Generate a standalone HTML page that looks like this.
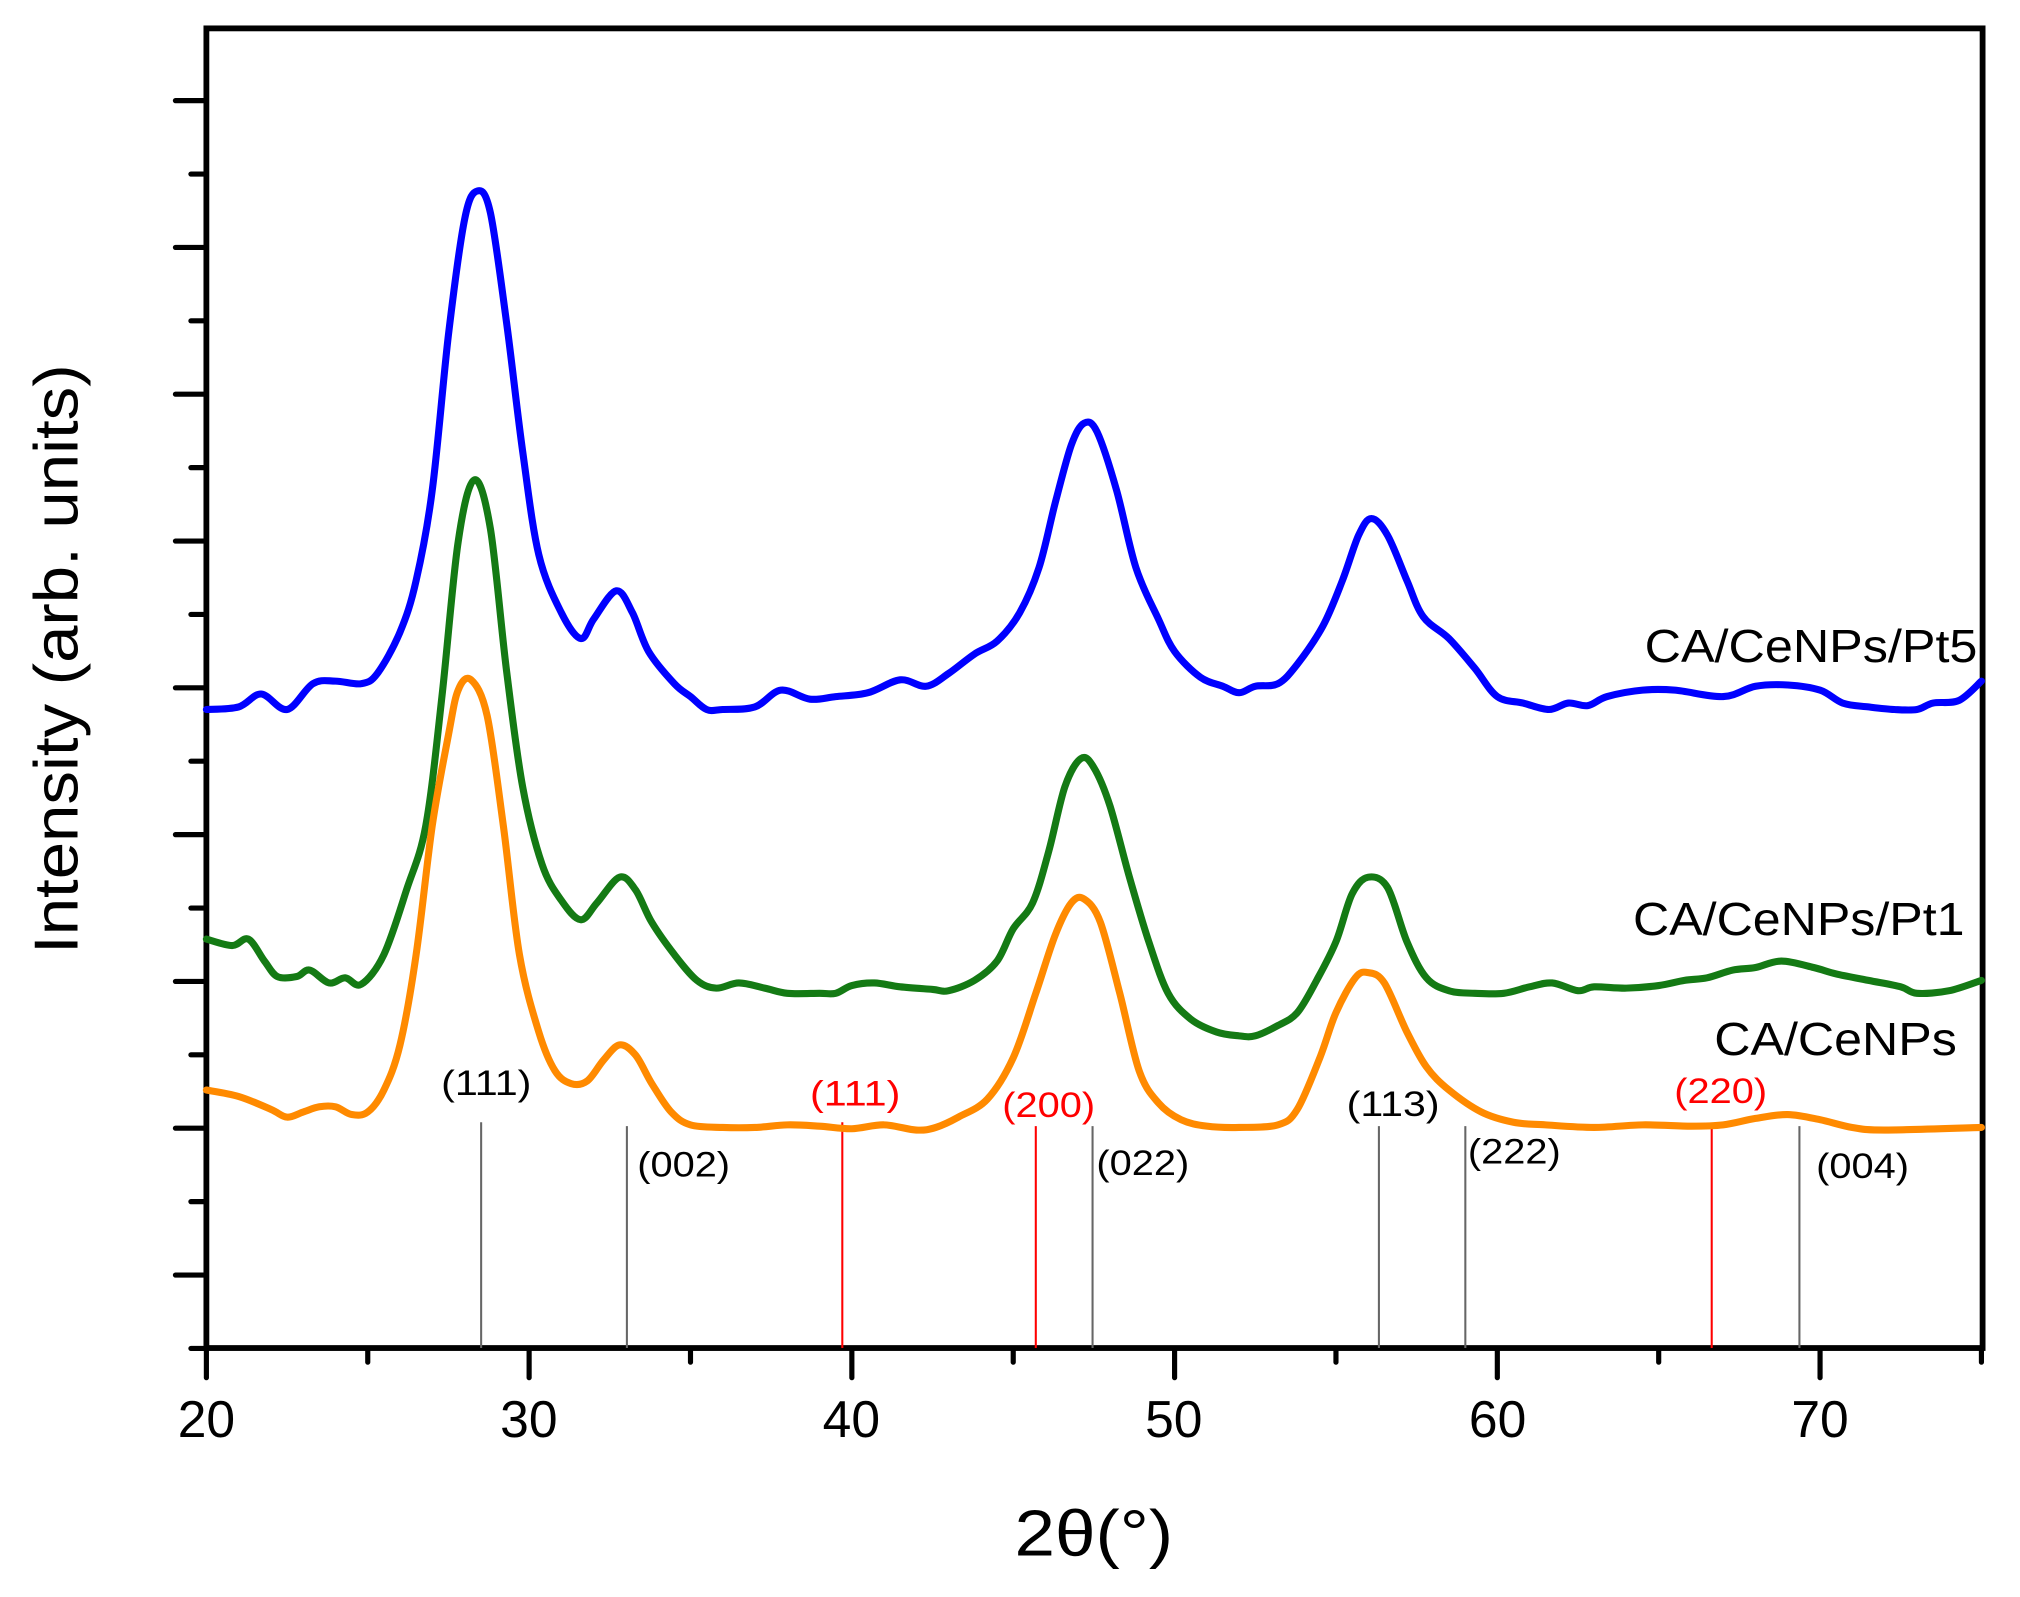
<!DOCTYPE html>
<html><head><meta charset="utf-8"><style>html,body{margin:0;padding:0;background:#fff}svg{display:block}</style></head><body>
<svg id="s" width="2020" height="1597" viewBox="0 0 1566 1238" preserveAspectRatio="none" xmlns="http://www.w3.org/2000/svg" font-family="Liberation Sans, Arial, sans-serif">
<g id="ticks" stroke="#000" stroke-width="4" stroke-linecap="round"></g>
<rect x="160" y="22" width="1377" height="1023" fill="none" stroke="#000" stroke-width="4.5"/>
<g stroke-width="1.6">
<line x1="373" y1="870" x2="373" y2="1045" stroke="#666"/>
<line x1="486" y1="873" x2="486" y2="1045" stroke="#666"/>
<line x1="653" y1="870" x2="653" y2="1045" stroke="#f00"/>
<line x1="803" y1="873" x2="803" y2="1045" stroke="#f00"/>
<line x1="847" y1="873" x2="847" y2="1045" stroke="#666"/>
<line x1="1069" y1="873" x2="1069" y2="1045" stroke="#666"/>
<line x1="1136" y1="873" x2="1136" y2="1045" stroke="#666"/>
<line x1="1327" y1="873" x2="1327" y2="1045" stroke="#f00"/>
<line x1="1395" y1="873" x2="1395" y2="1045" stroke="#666"/>
</g>
<g font-size="27" text-anchor="middle" lengthAdjust="spacingAndGlyphs">
<text x="377" y="849" textLength="70" lengthAdjust="spacingAndGlyphs">(111)</text>
<text x="530" y="912" textLength="72" lengthAdjust="spacingAndGlyphs">(002)</text>
<text x="663" y="857" fill="#f00" textLength="70" lengthAdjust="spacingAndGlyphs">(111)</text>
<text x="813" y="866" fill="#f00" textLength="72" lengthAdjust="spacingAndGlyphs">(200)</text>
<text x="886" y="911" textLength="72" lengthAdjust="spacingAndGlyphs">(022)</text>
<text x="1080" y="865" textLength="72" lengthAdjust="spacingAndGlyphs">(113)</text>
<text x="1174" y="902" textLength="72" lengthAdjust="spacingAndGlyphs">(222)</text>
<text x="1334" y="855" fill="#f00" textLength="72" lengthAdjust="spacingAndGlyphs">(220)</text>
<text x="1444" y="913" textLength="72" lengthAdjust="spacingAndGlyphs">(004)</text>
</g>
<g fill="none" stroke-width="5.5" stroke-linejoin="round" stroke-linecap="round">
<path id="pb" stroke="#0000ff"/>
<path id="pg" stroke="#147a14"/>
<path id="po" stroke="#ff8a00"/>
</g>
<g font-size="36">
<text x="1275" y="513" textLength="258" lengthAdjust="spacingAndGlyphs">CA/CeNPs/Pt5</text>
<text x="1266" y="725" textLength="257" lengthAdjust="spacingAndGlyphs">CA/CeNPs/Pt1</text>
<text x="1329" y="818" textLength="188" lengthAdjust="spacingAndGlyphs">CA/CeNPs</text>
</g>
<g font-size="40" text-anchor="middle">
<text x="160" y="1114">20</text><text x="410" y="1114">30</text><text x="660" y="1114">40</text>
<text x="910" y="1114">50</text><text x="1161" y="1114">60</text><text x="1411" y="1114">70</text>
</g>
<text x="848" y="1206" font-size="50" text-anchor="middle" textLength="123" lengthAdjust="spacingAndGlyphs">2θ(°)</text>
<text transform="translate(60,511) rotate(-90)" font-size="48" text-anchor="middle" textLength="457" lengthAdjust="spacingAndGlyphs">Intensity (arb. units)</text>
</svg>
<script>
var X=v=>160+(v-20)*25.02;
function P(id,d){var p=[];for(var i=0;i<d.length;i+=2)p.push([X(d[i]),d[i+1]]);
var s="M"+p[0][0].toFixed(1)+","+p[0][1];
for(var i=0;i<p.length-1;i++){var a=p[Math.max(0,i-1)],b=p[i],c=p[i+1],e=p[Math.min(p.length-1,i+2)];
var c1x=b[0]+(c[0]-a[0])/6,c1y=b[1]+(c[1]-a[1])/6,c2x=c[0]-(e[0]-b[0])/6,c2y=c[1]-(e[1]-b[1])/6;
s+="C"+c1x.toFixed(1)+","+c1y.toFixed(1)+" "+c2x.toFixed(1)+","+c2y.toFixed(1)+" "+c[0].toFixed(1)+","+c[1];}
document.getElementById(id).setAttribute("d",s);}
P("pb",[20,550,21,548,21.7,538,22.5,550,23.3,530,24,528,24.8,530,25.3,522,26,490,26.5,450,27,380,27.5,260,28,170,28.4,148,28.8,165,29.3,250,29.8,350,30.3,430,31,475,31.6,495,32,480,32.7,458,33.2,475,33.7,505,34.5,530,35,540,35.5,550,36,550,37,548,37.8,535,38.7,542,39.5,540,40.5,537,41.5,527,42.3,532,43,522,43.8,507,44.5,497,45.2,475,45.8,440,46.3,390,46.8,345,47.2,328,47.6,335,48.2,380,48.8,440,49.5,480,50,505,50.8,525,51.5,532,52,537,52.5,532,53.2,530,53.8,515,54.6,485,55.2,450,55.7,415,56.1,402,56.6,415,57.2,450,57.7,478,58.5,495,59.3,518,60,540,60.8,545,61.6,550,62.2,545,62.8,547,63.4,540,64.5,535,65.5,535,67,540,68,532,69,531,70,535,70.7,545,71.5,548,72.3,550,73,550,73.5,545,74.3,543,75,528]);
P("pg",[20,728,20.8,733,21.3,728,21.8,745,22.2,757,22.8,757,23.2,752,23.8,762,24.3,758,24.8,763,25.5,740,26.2,690,26.8,640,27.3,540,27.8,420,28.3,372,28.8,410,29.3,520,29.8,610,30.4,670,31,698,31.6,713,32.1,700,32.8,680,33.3,690,33.8,715,34.5,740,35.2,760,35.8,766,36.5,762,37.3,766,38,770,39,770,39.5,770,40,764,40.7,762,41.5,765,42.5,767,43,768,43.8,760,44.5,745,45,720,45.6,700,46.1,660,46.6,610,47.1,588,47.5,595,48,625,48.6,680,49.2,730,49.8,770,50.5,790,51.3,800,52,803,52.5,803,53.2,795,53.8,785,54.4,760,55,730,55.5,693,56,680,56.6,688,57.2,730,57.8,758,58.5,768,59.3,770,60.2,770,61,765,61.7,762,62.5,768,63,765,64,766,65,764,65.8,760,66.5,758,67.3,752,68,750,68.8,745,69.8,750,70.5,755,71.5,760,72.5,765,73,770,74,768,75,760]);
P("po",[20,845,21,850,22,860,22.5,866,23,862,23.5,858,24,858,24.5,864,25,862,25.5,845,26,810,26.5,740,27,640,27.5,570,27.8,535,28.2,527,28.7,555,29.2,640,29.7,740,30.3,800,30.8,830,31.3,840,31.8,838,32.3,822,32.8,810,33.3,818,33.8,840,34.4,862,35,872,36,874,37,874,38,872,39,873,40,875,41,872,42,876,42.6,874,43.3,866,44.2,852,45,820,45.7,770,46.3,725,46.8,700,47.2,697,47.7,715,48.3,770,48.9,830,49.5,855,50.2,868,51,873,52,874,53.2,872,53.8,860,54.5,820,55,785,55.6,758,56,754,56.5,762,57.2,800,57.8,827,58.5,845,59.5,862,60.5,870,61.5,872,63,874,64.5,872,66,873,67,872,68,867,69,864,70,868,71,874,72,876,75,874]);
var t="";
for(var v=20;v<=75;v+=5){var x=X(v),big=(v%10==0);t+='<line x1="'+x+'" y1="1045" x2="'+x+'" y2="'+(big?1068:1056)+'"/>';}
for(var k=0;k<18;k++){var y=78+k*56.9,big=(k%2==0);t+='<line x1="'+(big?136:148)+'" y1="'+y+'" x2="160" y2="'+y+'"/>';}
document.getElementById("ticks").innerHTML=t;
</script>
</body></html>
